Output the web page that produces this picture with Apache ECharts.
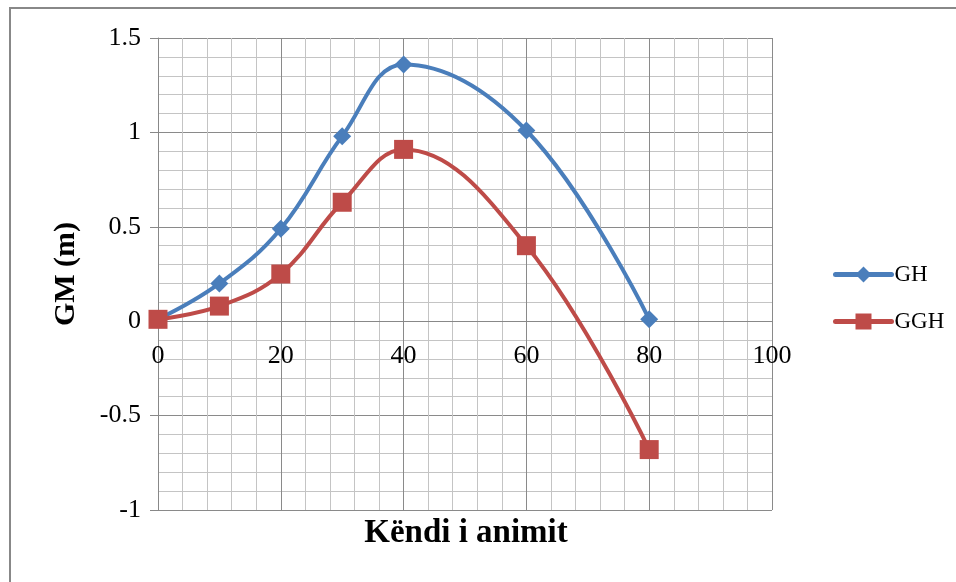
<!DOCTYPE html>
<html>
<head>
<meta charset="utf-8">
<script src="https://cdn.jsdelivr.net/npm/echarts@6/dist/echarts.min.js"></script>
<style>
html,body{margin:0;padding:0;background:#fff;}
#chart{width:956px;height:582px;}
</style>
</head>
<body>
<div id="chart"></div>
<script>
const angles = [0, 10, 20, 30, 40, 60, 80];
const ghValues = [0.01, 0.20, 0.49, 0.98, 1.36, 1.01, 0.01];
const gghValues = [0.01, 0.08, 0.25, 0.63, 0.91, 0.40, -0.68];
const seriesNames = ['GH', 'GGH'];
const xTitle = 'Këndi i animit';
const yTitle = 'GM (m)';

const FONT = '"Liberation Serif", "DejaVu Serif", serif';
const chart = echarts.init(document.getElementById('chart'));
const pair = (vals) => angles.map((a, i) => [a, vals[i]]);

const gridTop = 38, gridBottom = 72, H = 582;
const yMin = -1, yMax = 1.5;
const plotH = H - gridTop - gridBottom;
const zeroOffset = -plotH * (0 - yMin) / (yMax - yMin);

chart.setOption({
  animation: false,
  backgroundColor: '#fff',
  grid: { left: 158, right: 184, top: gridTop, bottom: gridBottom },
  legend: {
    orient: 'vertical',
    left: 833,
    top: 263,
    padding: 0,
    itemWidth: 56,
    itemHeight: 20,
    itemGap: 24,
    lineStyle: { width: 5, cap: 'round' },
    textStyle: { fontFamily: FONT, fontSize: 23, color: '#000', padding: [0, 0, 0, -2] },
    data: seriesNames
  },
  xAxis: {
    type: 'value',
    min: 0, max: 100, interval: 20,
    offset: zeroOffset,
    axisLine: { show: true, onZero: false, lineStyle: { color: '#888', width: 1 } },
    axisTick: { show: false },
    minorTick: { show: false, splitNumber: 5 },
    axisLabel: { margin: 22, fontFamily: FONT, fontSize: 26, color: '#000' },
    splitLine: { show: true, lineStyle: { color: '#8a8a8a', width: 1 } },
    minorSplitLine: { show: true, lineStyle: { color: '#c4c4c4', width: 1 } }
  },
  yAxis: {
    type: 'value',
    min: yMin, max: yMax, interval: 0.5,
    axisLine: { show: true, onZero: false, lineStyle: { color: '#888', width: 1 } },
    axisTick: { show: true, length: 8, lineStyle: { color: '#888' } },
    minorTick: { show: false, splitNumber: 5 },
    axisLabel: { margin: 17, fontFamily: FONT, fontSize: 26, color: '#000' },
    splitLine: { show: true, lineStyle: { color: '#8a8a8a', width: 1 } },
    minorSplitLine: { show: true, lineStyle: { color: '#c4c4c4', width: 1 } }
  },
  graphic: [
    { type: 'rect', shape: { x: 10, y: 8, width: 1200, height: 1200 },
      style: { fill: 'none', stroke: '#888', lineWidth: 2 }, silent: true },
    { type: 'text', x: 466, y: 533,
      style: { text: xTitle, font: 'bold 33px ' + FONT, fill: '#000', textAlign: 'center', textVerticalAlign: 'middle' } },
    { type: 'text', rotation: Math.PI / 2, x: 66, y: 274,
      style: { text: yTitle, font: 'bold 30px ' + FONT, fill: '#000', textAlign: 'center', textVerticalAlign: 'middle' } }
  ],
  series: [
    {
      name: seriesNames[0], type: 'line', smooth: 0.4,
      data: pair(ghValues),
      symbol: 'diamond', symbolSize: 18,
      itemStyle: { color: '#4a7ebb' },
      lineStyle: { color: '#4a7ebb', width: 4 },
      z: 3
    },
    {
      name: seriesNames[1], type: 'line', smooth: 0.4,
      data: pair(gghValues),
      symbol: 'rect', symbolSize: 19,
      itemStyle: { color: '#be4b48' },
      lineStyle: { color: '#be4b48', width: 4 },
      z: 4
    }
  ]
});
</script>
</body>
</html>
